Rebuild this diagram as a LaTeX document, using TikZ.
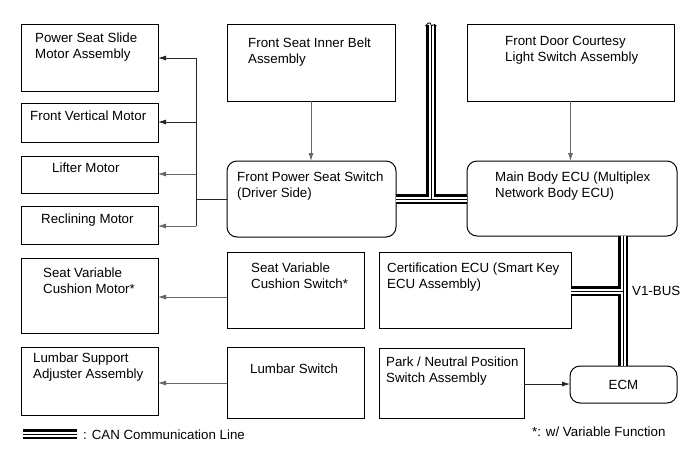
\documentclass[tikz,border=0pt]{standalone}
\usepackage{fontspec}
\setmainfont{Liberation Sans}
\usetikzlibrary{arrows.meta}
\newcommand\fs{\fontsize{13.3}{16}\selectfont}
\newcommand\myrule{\rule{0pt}{12.5pt}}
\newcommand\bx[6]{\node[#6, minimum width={(#4-#2)}, minimum height={(#5-#3)}] (#1) at ({(#2+#4)/2},{(#3+#5)/2}) {};}
\newcommand\tx[4]{\node[txt] (#1) at (#2,{#3-7.7}) {\myrule #4};}
\begin{document}
\begin{tikzpicture}[x=1pt,y=-1pt,
  box/.style={draw, line width=1pt, inner sep=0pt, outer sep=0pt},
  rbox/.style={box, rounded corners=10pt},
  txt/.style={anchor=north west, inner sep=0pt, align=left, font=\fs},
  conn/.style={line width=0.8pt, draw=black!85},
  gconn/.style={line width=0.8pt, draw=black!60},
  arr/.style={conn, -{Latex[length=8pt,width=5pt]}},
  garr/.style={gconn, -{Latex[length=8pt,width=5pt]}},
  canA/.style={line width=9.5pt, draw=black},
  canB/.style={line width=5pt, draw=white},
  canC/.style={line width=1pt, draw=black},
]
\useasboundingbox (0,0) rectangle (691,467);

% boxes
\bx{psm}{21}{24}{158}{91}{box}
\bx{fvm}{21}{103}{158}{142}{box}
\bx{lm}{21}{156}{158}{193}{box}
\bx{rm}{21}{206}{158}{244}{box}
\bx{svcm}{21}{258}{158}{333}{box}
\bx{lsa}{21}{347}{158}{415}{box}
\bx{fsib}{227}{24}{395}{101}{box}
\bx{fdc}{467}{24}{674}{101}{box}
\bx{fpss}{227}{161}{396}{237}{rbox}
\bx{mbecu}{467}{161}{677}{236}{rbox}
\bx{svcs}{227}{252}{364}{328}{box}
\bx{cert}{379}{252}{571}{328}{box}
\bx{lsw}{227}{347}{364}{418}{box}
\bx{pn}{379}{348}{524}{418}{box}
\bx{ecm}{570}{366}{677}{403}{rbox}

% texts
\tx{psmt}{35}{37}{Power Seat Slide\\Motor Assembly}
\tx{fvmt}{30}{115}{Front Vertical Motor}
\tx{lmt}{52}{167}{Lifter Motor}
\tx{rmt}{41}{218}{Reclining Motor}
\tx{svcmt}{43}{272}{Seat Variable\\Cushion Motor*}
\tx{lsat}{33}{357}{Lumbar Support\\Adjuster Assembly}
\tx{fsibt}{248}{42}{Front Seat Inner Belt\\Assembly}
\tx{fdct}{505}{40}{Front Door Courtesy\\Light Switch Assembly}
\tx{fpsst}{237}{176}{Front Power Seat Switch\\(Driver Side)}
\tx{mbecut}{495}{176}{Main Body ECU (Multiplex\\Network Body ECU)}
\tx{svcst}{251}{267}{Seat Variable\\Cushion Switch*}
\tx{certt}{387}{267}{Certification ECU (Smart Key\\ECU Assembly)}
\tx{lswt}{250}{368}{Lumbar Switch}
\tx{pnt}{386}{361}{Park / Neutral Position\\Switch Assembly}
\node[font=\fs, inner sep=0pt] (ecmt) at (ecm.center) {ECM};
\tx{v1}{632}{290}{V1-BUS}
\tx{note}{532}{431}{*: w/ Variable Function}
\tx{legt}{83}{434}{: CAN Communication Line}

% tree from front power seat switch
\coordinate (tj) at (196,199);
\coordinate (t1) at (196,58);
\coordinate (t2) at (196,122);
\coordinate (t3) at (196,174);
\coordinate (t4) at (196,226);
\draw[conn] (fpss.west |- tj) -- (tj);
\draw[conn] (t1) -- (t4);
\draw[arr] (t1) -- (t1 -| psm.east);
\draw[arr] (t2) -- (t2 -| fvm.east);
\draw[garr] (t3) -- (t3 -| lm.east);
\draw[garr] (t4) -- (t4 -| rm.east);

% other arrows
\draw[garr] (fsib.south) -- (fsib.south |- fpss.north);
\draw[garr] (fdc.south) -- (fdc.south |- mbecu.north);
\coordinate (a1) at (227,297);
\draw[garr] (a1) -- (a1 -| svcm.east);
\coordinate (a2) at (227,383);
\draw[garr] (a2) -- (a2 -| lsa.east);
\coordinate (a3) at (524,384);
\draw[arr] (a3) -- (a3 -| ecm.west);

% CAN lines
\coordinate (cantop) at (431,25);
\coordinate (canj) at (431,199);
\coordinate (bt) at (623,236);
\coordinate (bj) at (623,291);
\coordinate (bb) at (623,366);
\coordinate (lg1) at (23,434);
\coordinate (lg2) at (77,434);
\foreach \s in {canA,canB,canC}{
  \draw[\s] (cantop) -- (canj);
  \draw[\s] (canj -| fpss.east) -- (canj -| mbecu.west);
  \draw[\s] (bt) -- (bb);
  \draw[\s] (bj -| cert.east) -- (bj);
  \draw[\s] (lg1) -- (lg2);
}
% break mark at the top of the bus
\coordinate (bk1) at (425.5,26);
\coordinate (bk2) at (436.5,26);
\draw[line width=0.8pt] (bk1) .. controls (428,22) and (431,22) .. (431,25) .. controls (431,28) and (434,22) .. (bk2);
\end{tikzpicture}
\end{document}
